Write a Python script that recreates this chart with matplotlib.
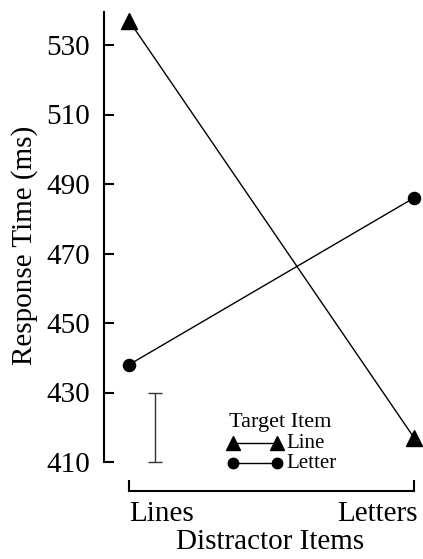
import matplotlib
matplotlib.use("Agg")
import matplotlib.pyplot as plt
import matplotlib.transforms as mtransforms

plt.rcParams['font.family'] = ['Liberation Serif', 'DejaVu Serif']

categories = ["Lines", "Letters"]
line_target = [537, 417]
letter_target = [438, 486]
series_names = ["Line", "Letter"]
legend_title = "Target Item"
yticks = [410, 430, 450, 470, 490, 510, 530]
errbar_center = 420
errbar_half = 10

W, H = 423, 559
fig = plt.figure(figsize=(W / 100, H / 100), dpi=100)
left, right, top, bottom = 104, 420, 12, 491
ax = fig.add_axes([left / W, 1 - bottom / H, (right - left) / W, (bottom - top) / H])


def afx(px):
    return (px - left) / (right - left)


def afy(py):
    return (bottom - py) / (bottom - top)


xpx0, xpx1 = 129, 414
ppu = xpx1 - xpx0
ax.set_xlim(-(xpx0 - left) / ppu, 1 + (right - xpx1) / ppu)
pxper = (462 - 45) / 120.0
ymin = 410 - (bottom - 462) / pxper
ymax = 530 + (45 - top) / pxper
ax.set_ylim(ymin, ymax)

x = list(range(len(categories)))
ax.plot(x, line_target, color='black', lw=1.0, marker='^', ms=11, clip_on=False)
ax.plot(x, letter_target, color='black', lw=1.0, marker='o', ms=8.7, clip_on=False)

ax.errorbar([(155 - xpx0) / ppu], [errbar_center], yerr=[errbar_half], color='#333333',
            lw=1.0, capsize=4.7, capthick=1.0, fmt='none')

for s in ['top', 'right']:
    ax.spines[s].set_visible(False)
ax.spines['left'].set_bounds(410, ymax)
ax.spines['bottom'].set_bounds(0, 1)
ax.spines['left'].set_linewidth(1.5)
ax.spines['bottom'].set_linewidth(1.5)

ax.set_yticks(yticks)
ax.set_yticklabels([str(v) for v in yticks])
ax.set_xticks(x)
ax.set_xticklabels(categories)
ax.tick_params(axis='y', direction='in', length=7, width=1.5, labelsize=21, pad=10)
ax.tick_params(axis='x', direction='in', length=8, width=1.5, labelsize=21, pad=7)
xl = ax.get_xticklabels()
xl[0].set_ha('left')
xl[1].set_ha('right')
xl[1].set_transform(xl[1].get_transform() +
                    mtransforms.ScaledTranslation(4 / 100, 0, fig.dpi_scale_trans))

ax.set_ylabel("Response Time (ms)", fontsize=21)
ax.yaxis.set_label_coords(afx(38), afy(245))
ax.set_xlabel("Distractor Items", fontsize=21)
ax.xaxis.set_label_coords(afx(270), afy(529))

# legend (manual)
ax.text(afx(280), afy(427), legend_title, transform=ax.transAxes, fontsize=16,
        ha='center', va='baseline')
rows = [(443, '^', 9.5), (463, 'o', 7.5)]
for name, (py, mk, ms) in zip(series_names, rows):
    ax.plot([afx(233), afx(277)], [afy(py), afy(py)], transform=ax.transAxes,
            color='black', lw=1.0, marker=mk, ms=ms, clip_on=False)
    ax.text(afx(286), afy(py), name, transform=ax.transAxes, fontsize=15,
            ha='left', va='center')

fig.savefig("out.png", dpi=100)
